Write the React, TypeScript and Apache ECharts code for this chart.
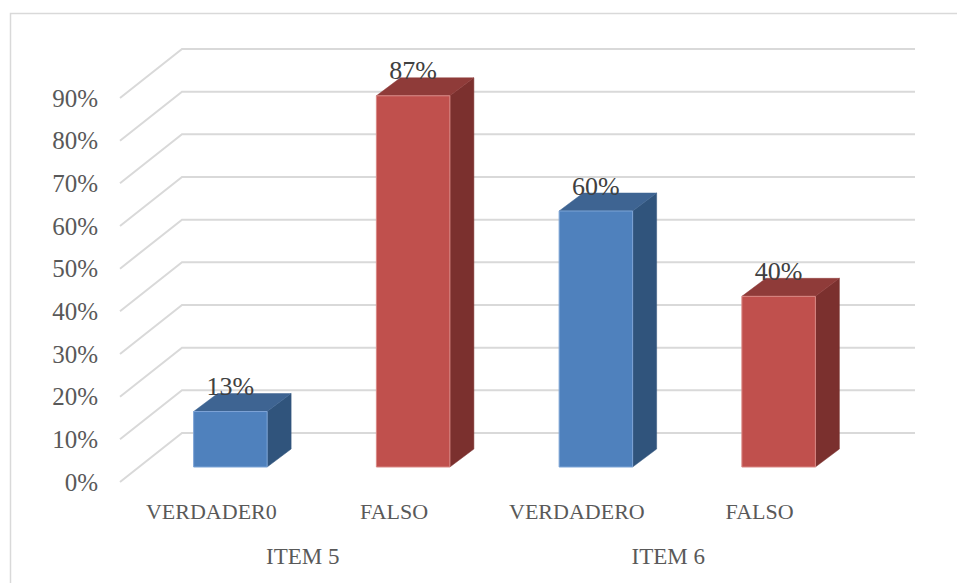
import React, { useEffect, useRef } from "react";
import * as echarts from "echarts";

const categories = ["VERDADER0", "FALSO", "VERDADERO", "FALSO"];
const groups = ["ITEM 5", "ITEM 6"];
const values = [13, 87, 60, 40];
const gridTicks = [0, 10, 20, 30, 40, 50, 60, 70, 80, 90];

const FONT = "'Liberation Serif', serif";
const palette = [
  { front: "#4f81bd", top: "#3e6492", side: "#30547c", edge: "#7da4d6" },
  { front: "#c0504d", top: "#8f3b39", side: "#7b302e", edge: "#d98885" },
];

export default function App() {
  const ref = useRef<HTMLDivElement>(null);
  useEffect(() => {
    const chart = echarts.init(ref.current!, undefined, { renderer: "svg" });
    chart.setOption({
      animation: false,
      backgroundColor: "#ffffff",
      graphic: [
        {
          type: "polyline",
          silent: true,
          shape: { points: [[10.5, 600], [10.5, 13.5], [970, 13.5]] },
          style: { stroke: "#d9d9d9", lineWidth: 1.5, fill: "none" },
        },
      ],
      grid: { left: 120, right: 106, top: 98, bottom: 101 },
      xAxis: [
        {
          type: "category",
          data: categories,
          axisLine: { show: false },
          axisTick: { show: false },
          axisLabel: { color: "#595959", fontFamily: FONT, fontSize: 22, margin: 18, interval: 0 },
        },
        {
          type: "category",
          data: groups,
          position: "bottom",
          offset: 45,
          axisLine: { show: false },
          axisTick: { show: false },
          axisLabel: { color: "#595959", fontFamily: FONT, fontSize: 23, margin: 18, interval: 0 },
        },
      ],
      yAxis: {
        type: "value",
        min: 0,
        max: 90,
        interval: 10,
        axisLine: { show: false },
        axisTick: { show: false },
        splitLine: { show: false },
        axisLabel: {
          formatter: "{value}%",
          color: "#595959",
          fontFamily: FONT,
          fontSize: 25,
          margin: 22,
        },
      },
      series: [
        {
          type: "custom",
          silent: true,
          clip: false,
          z: 1,
          data: gridTicks.map((t) => [0, t]),
          renderItem: (params: any, api: any) => {
            const y = api.coord([0, api.value(1)])[1];
            const x0 = params.coordSys.x;
            const x1 = x0 + params.coordSys.width;
            return {
              type: "polyline",
              shape: { points: [[x0, y], [x0 + 62, y - 49], [x1 + 64, y - 49]] },
              style: { stroke: "#d9d9d9", lineWidth: 2, fill: "none" },
            };
          },
        },
        {
          type: "custom",
          silent: true,
          clip: false,
          z: 2,
          data: values.map((v, i) => [i, v]),
          encode: { x: 0, y: 1 },
          renderItem: (_params: any, api: any) => {
            const i = api.value(0);
            const v = api.value(1);
            const p = palette[i % 2];
            const [cx, topRaw] = api.coord([i, v]);
            const bottomRaw = api.coord([i, 0])[1];
            const w = 73.5;
            const dx = 24;
            const dy = 18;
            const x = cx + 19 - w / 2;
            const top = topRaw - 15;
            const bottom = bottomRaw - 15;
            const r = x + w;
            return {
              type: "group",
              children: [
                {
                  type: "polygon",
                  shape: { points: [[r, top], [r + dx, top - dy], [r + dx, bottom - dy], [r, bottom]] },
                  style: { fill: p.side, stroke: p.side, lineWidth: 0.5 },
                },
                {
                  type: "polygon",
                  shape: { points: [[x, top], [x + dx, top - dy], [r + dx, top - dy], [r, top]] },
                  style: { fill: p.top, stroke: p.top, lineWidth: 0.5 },
                },
                {
                  type: "rect",
                  shape: { x, y: top, width: w, height: bottom - top },
                  style: { fill: p.front, stroke: p.edge, lineWidth: 1 },
                },
                {
                  type: "text",
                  z2: 10,
                  style: {
                    text: `${v}%`,
                    x: x + w / 2,
                    y: top - 25,
                    align: "center",
                    verticalAlign: "middle",
                    fill: "#404040",
                    font: `26px ${FONT}`,
                  },
                },
              ],
            };
          },
        },
      ],
    });
    return () => chart.dispose();
  }, []);
  return (
    <div
      ref={ref}
      style={{ position: "fixed", left: 0, top: 0, width: 957, height: 583 }}
    />
  );
}
